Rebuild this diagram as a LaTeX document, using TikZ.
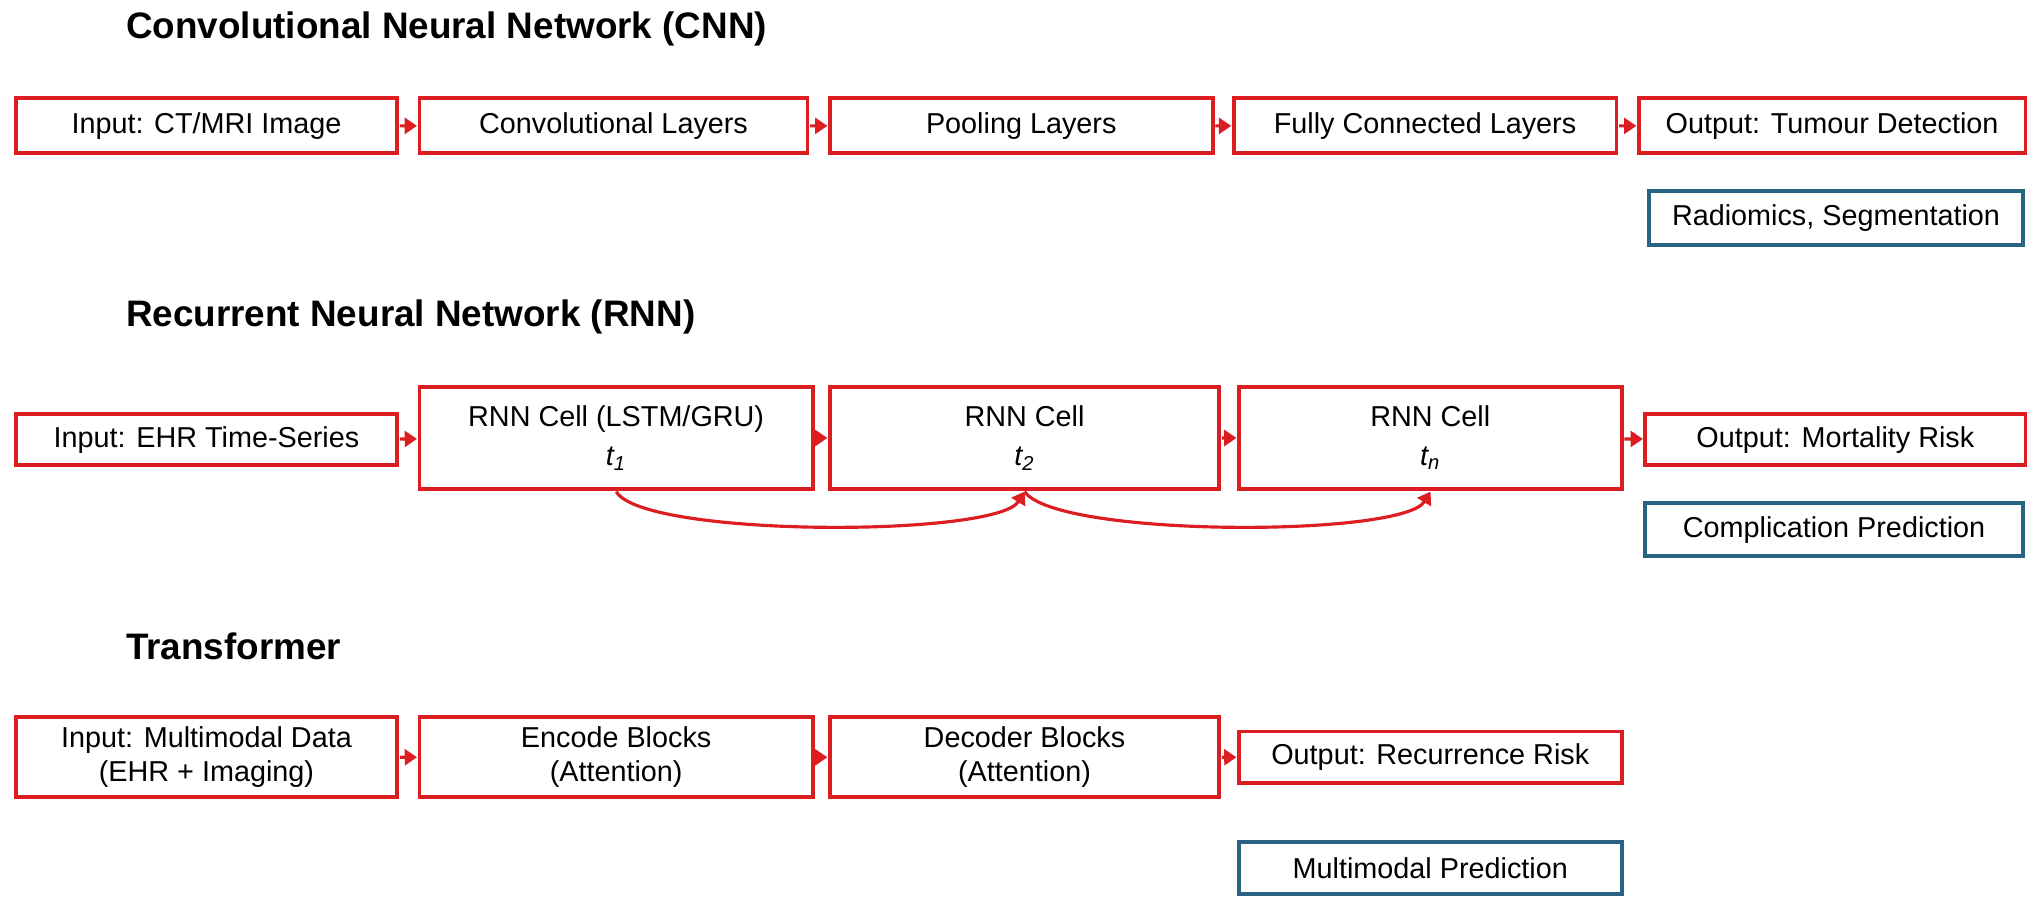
\documentclass[tikz,border=0pt]{standalone}
\usepackage{fontspec}
\setmainfont{Liberation Sans}
\usetikzlibrary{arrows.meta}

\definecolor{boxred}{RGB}{220,30,35}
\definecolor{boxblue}{RGB}{40,100,130}

\begin{document}
\begin{tikzpicture}[x=0.02cm, y=-0.02cm, scale=1.311, transform shape,
    redbox/.style={draw=boxred, line width=2.2pt, align=center, font=\fontsize{12.5}{15}\selectfont, inner sep=0pt},
    bluebox/.style={draw=boxblue, line width=2.2pt, align=center, font=\fontsize{12.5}{15}\selectfont, inner sep=0pt},
    title/.style={anchor=west, font=\fontsize{16}{19}\selectfont\bfseries},
    flow/.style={draw=boxred, line width=1.8pt, -{Triangle[length=7pt,width=9pt]}}]
    \useasboundingbox (0,0) rectangle (1550,686.5);

    % CNN
    \node[title] (tcnn) at (90,22) {Convolutional Neural Network (CNN)};
    \node[redbox, minimum width=291*0.02cm, minimum height=42*0.02cm] (a1) at (157.5,96) {Input: CT/MRI Image};
    \node[redbox, minimum width=296*0.02cm, minimum height=42*0.02cm] (a2) at (468,96) {Convolutional Layers};
    \node[redbox, minimum width=292*0.02cm, minimum height=42*0.02cm] (a3) at (779,96) {Pooling Layers};
    \node[redbox, minimum width=292*0.02cm, minimum height=42*0.02cm] (a4) at (1087,96) {Fully Connected Layers};
    \node[redbox, minimum width=295*0.02cm, minimum height=42*0.02cm] (a5) at (1397.5,96) {Output: Tumour Detection};
    \node[bluebox, minimum width=285*0.02cm, minimum height=41*0.02cm] (a6) at (1400.5,166.5) {Radiomics, Segmentation};
    \draw[flow] (a1) -- (a2);
    \draw[flow] (a2) -- (a3);
    \draw[flow] (a3) -- (a4);
    \draw[flow] (a4) -- (a5);

    % RNN
    \node[title] (trnn) at (90,242) {Recurrent Neural Network (RNN)};
    \node[redbox, minimum width=291*0.02cm, minimum height=39*0.02cm] (b1) at (157.5,335.5) {Input: EHR Time-Series};
    \node[redbox, minimum width=300*0.02cm, minimum height=78*0.02cm] (b2) at (470,334) {RNN Cell (LSTM/GRU)\\[2pt] $\mathit{t_1}$};
    \node[redbox, minimum width=297*0.02cm, minimum height=78*0.02cm] (b3) at (781.5,334) {RNN Cell\\[2pt] $\mathit{t_2}$};
    \node[redbox, minimum width=292*0.02cm, minimum height=78*0.02cm] (b4) at (1091,334) {RNN Cell\\[2pt] $\mathit{t_n}$};
    \node[redbox, minimum width=290*0.02cm, minimum height=39*0.02cm] (b5) at (1400,335.5) {Output: Mortality Risk};
    \node[bluebox, minimum width=288*0.02cm, minimum height=40*0.02cm] (b6) at (1399,404) {Complication Prediction};
    \draw[flow] (b1) -- (b2);
    \draw[flow] (b2) -- (b3);
    \draw[flow] (b3) -- (b4);
    \draw[flow] (b4) -- (b5);
    \draw[flow] (b2.south) .. controls (490,410) and (760,410) .. (b3.south);
    \draw[flow] (b3.south) .. controls (805,410) and (1070,410) .. (b4.south);

    % Transformer
    \node[title] (ttr) at (90,493) {Transformer};
    \node[redbox, minimum width=291*0.02cm, minimum height=61*0.02cm] (c1) at (157.5,577.5) {Input: Multimodal Data\\(EHR + Imaging)};
    \node[redbox, minimum width=300*0.02cm, minimum height=61*0.02cm] (c2) at (470,577.5) {Encode Blocks\\(Attention)};
    \node[redbox, minimum width=297*0.02cm, minimum height=61*0.02cm] (c3) at (781.5,577.5) {Decoder Blocks\\(Attention)};
    \node[redbox, minimum width=292*0.02cm, minimum height=39*0.02cm] (c4) at (1091,577.5) {Output: Recurrence Risk};
    \node[bluebox, minimum width=292*0.02cm, minimum height=40*0.02cm] (c5) at (1091,662) {Multimodal Prediction};
    \draw[flow] (c1) -- (c2);
    \draw[flow] (c2) -- (c3);
    \draw[flow] (c3) -- (c4);
\end{tikzpicture}
\end{document}
